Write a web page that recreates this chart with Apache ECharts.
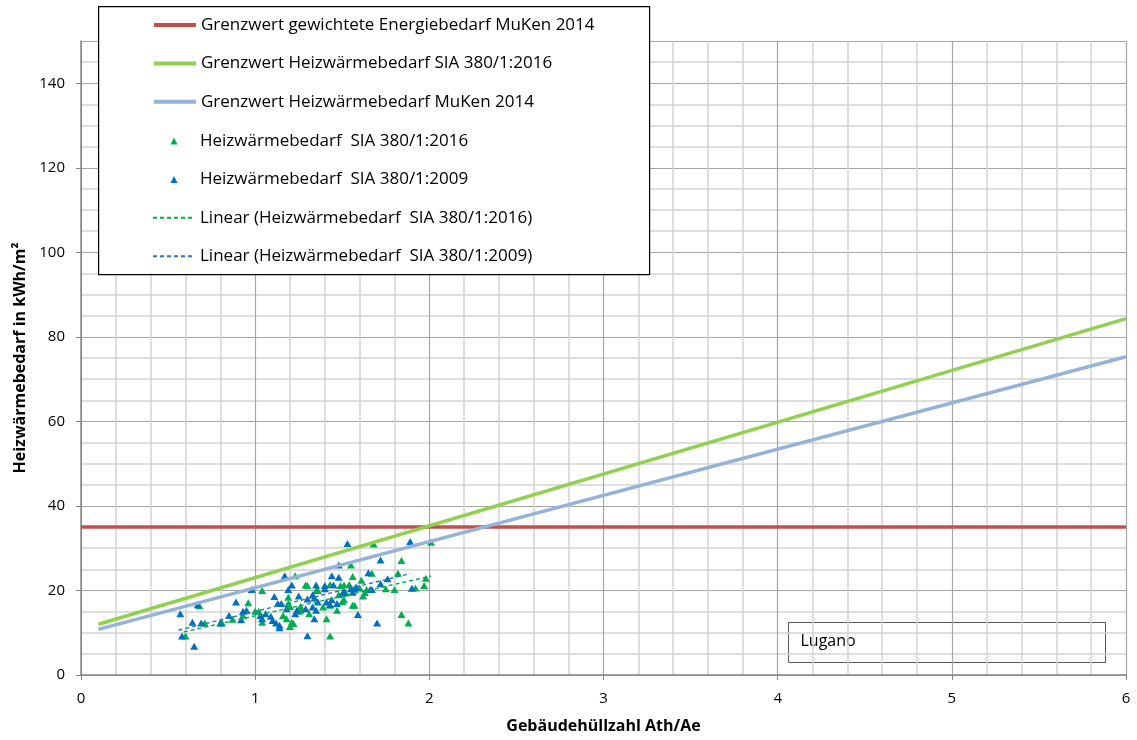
<!DOCTYPE html>
<html>
<head>
<meta charset="utf-8">
<script src="https://cdn.jsdelivr.net/npm/echarts@6/dist/echarts.min.js"></script>
<style>
html,body{margin:0;padding:0;background:#fff;}
#main{width:1137px;height:740px;}
</style>
</head>
<body>
<div id="main"></div>
<script>
// Grenzwerte (Endpunkte der Geraden)
var limitMuKenEnergieX = [0, 6];
var limitMuKenEnergieY = [35, 35];
var limitSia2016X = [0.1, 6];
var limitSia2016Y = [12.0, 84.3];
var limitMuKenHeizX = [0.1, 6];
var limitMuKenHeizY = [10.8, 75.3];

// lineare Trends
var trend2016X = [0.59, 2.01];
var trend2016Y = [10.2, 23.4];
var trend2009X = [0.56, 1.89];
var trend2009Y = [10.6, 24.0];

// Messpunkte [Ath/Ae, kWh/m2]
var sia2016 = [
  [0.60,9.2],[0.68,16.4],[0.71,12.3],[0.81,12.3],[0.87,13.2],[0.93,14.1],[0.96,17.1],[1.00,15.1],
  [1.02,15.1],[1.04,20.0],[1.04,12.5],[1.16,14.1],[1.18,13.3],[1.19,18.4],[1.19,16.9],[1.20,16.2],
  [1.20,11.5],[1.21,12.5],[1.22,12.2],[1.23,23.5],[1.25,15.1],[1.26,16.2],[1.26,15.3],[1.29,21.3],
  [1.30,21.2],[1.31,14.5],[1.35,20.0],[1.36,20.0],[1.39,16.1],[1.41,13.3],[1.43,21.4],[1.43,16.5],
  [1.43,9.2],[1.47,15.3],[1.48,19.0],[1.49,21.2],[1.50,17.4],[1.51,21.3],[1.51,17.8],[1.52,19.4],
  [1.54,21.4],[1.55,26.0],[1.56,23.3],[1.56,16.5],[1.57,16.5],[1.60,20.6],[1.61,22.4],[1.62,18.7],
  [1.63,19.5],[1.64,20.2],[1.67,24.1],[1.68,31.0],[1.75,20.4],[1.80,20.2],[1.82,24.1],[1.84,27.1],
  [1.84,14.3],[1.88,12.3],[1.92,20.6],[1.97,21.2],[1.98,22.9],[2.01,31.4]
];
var sia2009 = [
  [0.57,14.5],[0.58,9.2],[0.64,12.5],[0.65,6.8],[0.67,16.6],[0.69,12.3],[0.80,12.3],[0.85,14.1],
  [0.89,17.3],[0.92,13.1],[0.93,15.1],[0.95,15.3],[0.98,20.2],[1.03,14.1],[1.04,13.3],[1.06,14.5],
  [1.09,13.9],[1.10,12.9],[1.11,18.6],[1.12,12.3],[1.13,16.9],[1.14,11.2],[1.14,11.8],[1.15,16.9],
  [1.17,23.5],[1.18,15.7],[1.19,20.2],[1.21,21.3],[1.23,14.5],[1.24,15.3],[1.25,18.7],[1.29,15.7],
  [1.30,18.0],[1.30,9.3],[1.33,19.0],[1.33,16.1],[1.34,18.2],[1.34,13.3],[1.35,21.3],[1.35,15.3],
  [1.36,17.3],[1.40,21.2],[1.40,20.4],[1.41,17.3],[1.43,16.7],[1.44,17.8],[1.44,23.5],[1.45,21.3],
  [1.47,16.9],[1.48,26.0],[1.48,23.1],[1.50,19.2],[1.51,19.7],[1.53,31.1],[1.55,20.4],[1.56,19.6],
  [1.57,20.4],[1.58,20.8],[1.59,14.3],[1.65,24.2],[1.66,20.2],[1.67,20.2],[1.70,12.3],[1.72,27.2],
  [1.72,21.6],[1.76,22.8],[1.89,31.6],[1.90,20.5]
];

var names = [
  'Grenzwert gewichtete Energiebedarf MuKen 2014',
  'Grenzwert Heizwärmebedarf SIA 380/1:2016',
  'Grenzwert Heizwärmebedarf MuKen 2014',
  'Heizwärmebedarf  SIA 380/1:2016',
  'Heizwärmebedarf  SIA 380/1:2009',
  'Linear (Heizwärmebedarf  SIA 380/1:2016)',
  'Linear (Heizwärmebedarf  SIA 380/1:2009)'
];

function zip(xs, ys) {
  var out = [];
  for (var i = 0; i < xs.length; i++) out.push([xs[i], ys[i]]);
  return out;
}

var font = '"Open Sans", sans-serif';
var hidden = {opacity: 0};
var triIcon = 'path://M0,10 L5,0 L10,10 Z';
var myChart = echarts.init(document.getElementById('main'));

var option = {
  animation: false,
  textStyle: {fontFamily: font},
  grid: {left: 81, right: 11, top: 41, bottom: 65},
  xAxis: {
    type: 'value', min: 0, max: 6, interval: 1,
    name: 'Gebäudehüllzahl Ath/Ae', nameLocation: 'middle', nameGap: 43,
    nameTextStyle: {fontWeight: 'bold', fontSize: 16, color: '#000', fontFamily: font},
    axisLine: {show: true, lineStyle: {color: '#868686', width: 1.5}},
    axisTick: {show: true, length: 5, lineStyle: {color: '#868686'}},
    axisLabel: {fontSize: 15, color: '#000', margin: 16, fontFamily: font},
    splitLine: {show: true, lineStyle: {color: '#a6a6a6', width: 1.2}},
    minorTick: {show: false, splitNumber: 5},
    minorSplitLine: {show: true, lineStyle: {color: '#d4d4d4', width: 1.5}}
  },
  yAxis: {
    type: 'value', min: 0, max: 150, interval: 20,
    name: 'Heizwärmebedarf in kWh/m²', nameLocation: 'middle', nameGap: 52,
    nameTextStyle: {fontWeight: 'bold', fontSize: 16, color: '#000', fontFamily: font},
    axisLine: {show: true, lineStyle: {color: '#868686', width: 1.5}},
    axisTick: {show: true, length: 5, lineStyle: {color: '#868686'}},
    axisLabel: {fontSize: 15, color: '#000', margin: 16, showMaxLabel: false, fontFamily: font},
    splitLine: {show: true, lineStyle: {color: '#a6a6a6', width: 1.2}},
    minorTick: {show: false, splitNumber: 4},
    minorSplitLine: {show: true, lineStyle: {color: '#d4d4d4', width: 1.5}}
  },
  legend: [
    {
      data: [
        {name: names[0], itemStyle: hidden},
        {name: names[1], itemStyle: hidden},
        {name: names[2], itemStyle: hidden}
      ],
      orient: 'vertical', left: 152, top: 15, padding: 0,
      itemWidth: 42, itemHeight: 14, itemGap: 18.4,
      lineStyle: {width: 4},
      textStyle: {fontSize: 17, lineHeight: 20, color: '#000', fontFamily: font},
      z: 20
    },
    {
      data: [
        {name: names[3], icon: triIcon},
        {name: names[4], icon: triIcon},
        {name: names[5], itemStyle: hidden},
        {name: names[6], itemStyle: hidden}
      ],
      orient: 'vertical', left: 152, top: 131, padding: 0,
      itemWidth: 42, itemHeight: 7, itemGap: 18.4, symbolKeepAspect: true,
      textStyle: {fontSize: 17, lineHeight: 20, color: '#000', fontFamily: font},
      z: 20
    }
  ],
  graphic: [
    {
      type: 'rect', left: 98, top: 6, z: 15,
      shape: {width: 551, height: 268},
      style: {fill: '#fff', stroke: '#000', lineWidth: 1.2}
    },
    {
      type: 'group', left: 788, top: 622, z: 15,
      children: [
        {type: 'rect', shape: {width: 317, height: 40}, style: {fill: '#fff', stroke: '#595959', lineWidth: 1}},
        {type: 'text', left: 12, top: 11, style: {text: 'Lugano', fontSize: 16, fill: '#000', fontFamily: font}}
      ]
    }
  ],
  series: [
    {
      name: names[0], type: 'line', symbol: 'none',
      data: zip(limitMuKenEnergieX, limitMuKenEnergieY),
      lineStyle: {color: '#c0504d', width: 3.5}, itemStyle: {color: '#c0504d'}
    },
    {
      name: names[1], type: 'line', symbol: 'none',
      data: zip(limitSia2016X, limitSia2016Y),
      lineStyle: {color: '#92d050', width: 3.5}, itemStyle: {color: '#92d050'}
    },
    {
      name: names[2], type: 'line', symbol: 'none',
      data: zip(limitMuKenHeizX, limitMuKenHeizY),
      lineStyle: {color: '#95b3d7', width: 3.5}, itemStyle: {color: '#95b3d7'}
    },
    {
      name: names[3], type: 'scatter', symbol: 'triangle', symbolSize: [8, 7],
      data: sia2016, itemStyle: {color: '#00b050', opacity: 1}
    },
    {
      name: names[4], type: 'scatter', symbol: 'triangle', symbolSize: [8, 7],
      data: sia2009, itemStyle: {color: '#0070c0', opacity: 1}
    },
    {
      name: names[5], type: 'line', symbol: 'none',
      data: zip(trend2016X, trend2016Y),
      lineStyle: {color: '#00b050', width: 1.4, type: [4, 3]}, itemStyle: {color: '#00b050'}
    },
    {
      name: names[6], type: 'line', symbol: 'none',
      data: zip(trend2009X, trend2009Y),
      lineStyle: {color: '#2e75b6', width: 1.4, type: [4, 3]}, itemStyle: {color: '#2e75b6'}
    }
  ]
};

myChart.setOption(option);
</script>
</body>
</html>
